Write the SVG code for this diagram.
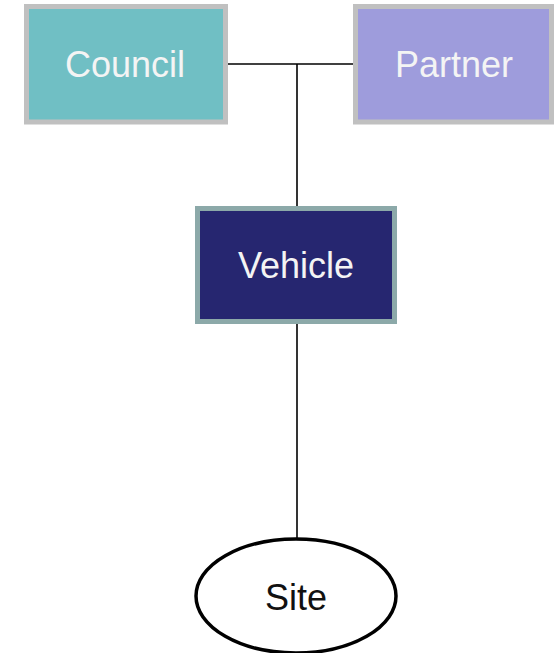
<svg xmlns="http://www.w3.org/2000/svg" width="559" height="653" viewBox="0 0 559 653">
<style>
.lbl{font-family:"Liberation Sans",Arial,sans-serif;font-size:36px;text-anchor:middle}
.w{fill:#f4f4f4}
.k{fill:#111}
.conn{stroke:#000;stroke-width:1.6;fill:none}
</style>
<rect width="559" height="653" fill="#fff"/>
<g id="connectors">
<path class="conn" d="M228 64H353"/>
<path class="conn" d="M297 64V206"/>
<path class="conn" d="M297 324V538"/>
</g>
<g id="council">
<rect x="26.5" y="6.5" width="199" height="115.5" fill="#70bfc4" stroke="#c0c0c0" stroke-width="5"/>
<text class="lbl w" x="125" y="77">Council</text>
</g>
<g id="partner">
<rect x="355.5" y="6.5" width="196" height="115.5" fill="#9e9cdc" stroke="#c0c0c0" stroke-width="5"/>
<text class="lbl w" x="454" y="77">Partner</text>
</g>
<g id="vehicle">
<rect x="197.5" y="208.5" width="197" height="113" fill="#262670" stroke="#8ca9a9" stroke-width="5"/>
<text class="lbl w" x="296" y="278">Vehicle</text>
</g>
<g id="site">
<ellipse cx="296" cy="596" rx="100" ry="57" fill="#fff" stroke="#000" stroke-width="3.5"/>
<text class="lbl k" x="296" y="610">Site</text>
</g>
</svg>
